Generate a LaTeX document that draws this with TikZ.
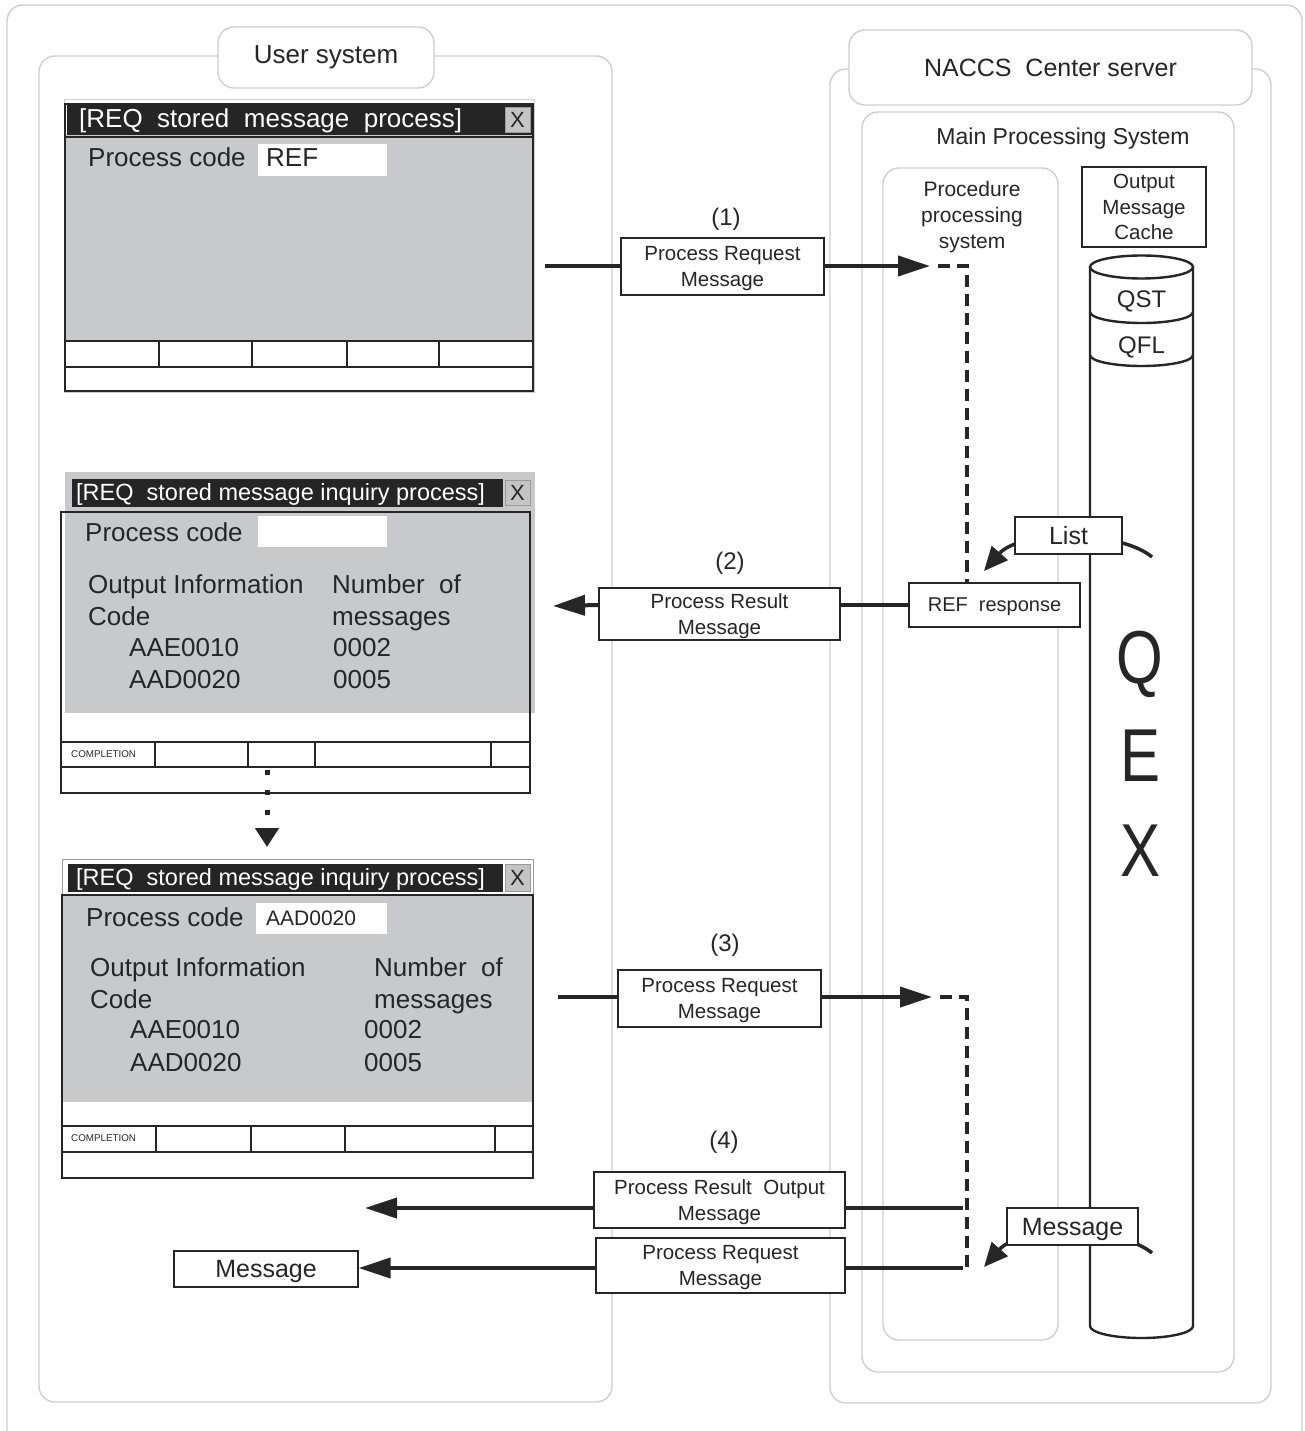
\documentclass[tikz,border=0pt]{standalone}
\usepackage{fontspec}
\setmainfont{Liberation Sans}
\usetikzlibrary{arrows.meta}
\definecolor{framegray}{HTML}{CFCFCF}
\definecolor{ink}{HTML}{262626}
\definecolor{screen}{HTML}{C8C9CB}
\definecolor{titlebar}{HTML}{252525}
\definecolor{btn}{HTML}{C4C4C4}
\definecolor{edge}{HTML}{9A9A9A}
\newcommand\fsz[2]{\fontsize{#1}{#2}\selectfont}

\begin{document}
\begin{tikzpicture}[x=1pt,y=-1pt,
  frame/.style={draw=framegray, line width=1.4pt, rounded corners=16pt},
  tagbox/.style={frame, fill=white, inner sep=0pt, text=ink},
  msgbox/.style={draw=ink, line width=1.3pt, fill=white, inner sep=0pt, align=center, text=ink,
                 text depth=0pt, font=\fsz{20.5}{26}},
  flow/.style={draw=ink, line width=4pt},
  flowto/.style={flow, -{Triangle[length=32pt,width=20pt]}},
  relay/.style={draw=ink, line width=4.5pt, dash pattern=on 12pt off 7pt},
  txt/.style={text=ink, inner sep=0pt, anchor=base west, font=\fsz{26}{30}},
  ttl/.style={text=white, inner sep=0pt, anchor=base west},
  tiny/.style={text=ink, inner sep=0pt, anchor=west, font=\fsz{9.8}{11}},
  win/.style={draw=ink, line width=2pt},
  cell/.style={draw=ink, line width=1.6pt},
  cyl/.style={draw=ink, line width=2.4pt},
  pick/.style={draw=ink, line width=3.5pt, -{Triangle[length=24pt,width=21pt]}},
  num/.style={text=ink, font=\fsz{24}{28}},
  xbtn/.style={fill=btn, draw=edge, line width=0.8pt, inner sep=0pt, text=ink, font=\fsz{22}{24}},
  bigq/.style={text=ink, font=\fsz{60}{60}},
]
\useasboundingbox (0,0) rectangle (1304,1431);
\fill[white] (0,0) rectangle (1304,1431);

% sheet border
\draw[frame] (7,1460) -- (7,5) -- (1302,5) -- (1302,1460);

% ---------- user side container ----------
\draw[frame] (39,56) rectangle (612,1402);
\node[tagbox, minimum width=216pt, minimum height=61pt, font=\fsz{26}{30}] (usertag) at (326,57.5) {User system};

% ---------- center side containers ----------
\draw[frame] (830,69) rectangle (1271,1403);
\node[tagbox, minimum width=403pt, minimum height=75pt, font=\fsz{25}{30}] (naccstag) at (1050.5,67.5) {NACCS~ Center server};
\draw[frame] (862,112) rectangle (1234,1372);
\node[text=ink, font=\fsz{23}{28}] (mainlbl) at (1063,139) {Main Processing System};
\draw[frame] (883,168) rectangle (1058,1340);
\node[text=ink, font=\fsz{21}{26}, align=center] (proclbl) at (972,217) {Procedure\\processing\\system};
\node[draw=ink, line width=1.3pt, minimum width=124pt, minimum height=80pt, inner sep=0pt, text depth=0pt,
      align=center, font=\fsz{20.5}{25.5}, text=ink] (cache) at (1144,207) {Output\\Message\\Cache};

% ---------- message store cylinder ----------
\draw[cyl] (1090,267) -- (1090,1326)
  arc[start angle=180, end angle=360, x radius=51.5pt, y radius=12pt] -- (1193,267);
\draw[cyl, fill=white] (1141.5,267) ellipse [x radius=51.5pt, y radius=11.5pt];
\draw[cyl] (1090,312) arc[start angle=180, end angle=360, x radius=51.5pt, y radius=11pt];
\draw[cyl] (1090,355) arc[start angle=180, end angle=360, x radius=51.5pt, y radius=11pt];
\node[text=ink, font=\fsz{24}{28}] (qst) at (1141.5,301) {QST};
\node[text=ink, font=\fsz{24}{28}] (qfl) at (1141.5,347) {QFL};
\node[bigq] (qq) at (1140,664) {\scalebox{1}[1.25]{Q}};
\node[bigq] (qe) at (1140,756) {\scalebox{1}[1.25]{E}};
\node[bigq] (qx) at (1140,851) {\scalebox{1}[1.25]{X}};

% ---------- window 1 ----------
\draw[draw=framegray, line width=1pt] (64,100) rectangle (534,392);
\fill[screen] (65,135) rectangle (533,341);
\fill[titlebar] (67,104) rectangle (533,135);
\node[xbtn, minimum width=25pt, minimum height=25pt] (x1) at (517.5,119.5) {X};
\node[ttl, font=\fsz{26}{30}] (t1) at (79,127.5) {[REQ\ \ stored\ \ message\ \ process]};
\draw[win] (65,104) rectangle (533,391);
\draw[win] (65,137) -- (533,137);
\fill[white] (258,144) rectangle (387,176);
\node[txt] (pc1) at (88,167) {Process code};
\node[txt] (v1) at (266,167) {REF};
\draw[cell] (65,341) -- (533,341) (65,367) -- (533,367);
\foreach \x in {159,252,347,439} \draw[cell] (\x,341) -- (\x,367);

% ---------- window 2 ----------
\fill[screen] (65,472) rectangle (535,713);
\fill[titlebar] (72,479) rectangle (503,507);
\node[xbtn, minimum width=25pt, minimum height=25pt] (x2) at (517.5,493) {X};
\node[ttl, font=\fsz{23.5}{28}] (t2) at (76,500) {[REQ\ \ stored\ message\ inquiry\ process]};
\draw[win] (61,512) rectangle (530,793);
\fill[white] (258,516) rectangle (387,547);
\node[txt] (pc2) at (85,541) {Process code};
\node[txt] (oi2) at (88,593) {Output Information};
\node[txt] (cd2) at (88,625) {Code};
\node[txt] (a2) at (129,656) {AAE0010};
\node[txt] (b2) at (129,688) {AAD0020};
\node[txt] (n2) at (332,593) {Number\ \ of};
\node[txt] (m2) at (332,625) {messages};
\node[txt] (c2) at (333,656) {0002};
\node[txt] (d2) at (333,688) {0005};
\draw[cell] (61,742) -- (530,742) (61,767) -- (530,767);
\foreach \x in {155,248,315,491} \draw[cell] (\x,742) -- (\x,767);
\node[tiny] (cp2) at (71,754) {COMPLETION};

% step down to the next screen
\coordinate (go2) at (267,769.5);
\coordinate (go3) at (267,847);
\draw[draw=ink, line width=5pt, dash pattern=on 5pt off 15pt,
      -{Triangle[length=19pt,width=23pt]}] (go2) -- (go3);

% ---------- window 3 ----------
\fill[screen] (62,895) rectangle (533,1102);
\draw[draw=edge, line width=1pt] (62,859) rectangle (533,895);
\fill[titlebar] (68,864) rectangle (503,892);
\node[xbtn, minimum width=25pt, minimum height=27pt] (x3) at (517.5,878) {X};
\node[ttl, font=\fsz{23.5}{28}] (t3) at (76,885) {[REQ\ \ stored\ message\ inquiry\ process]};
\draw[win] (62,895) rectangle (533,1178);
\fill[white] (256,903) rectangle (387,934);
\node[txt] (pc3) at (86,926) {Process code};
\node[txt, font=\fsz{21}{25}] (v3) at (266,925) {AAD0020};
\node[txt] (oi3) at (90,976) {Output Information};
\node[txt] (cd3) at (90,1008) {Code};
\node[txt] (a3) at (130,1038) {AAE0010};
\node[txt] (b3) at (130,1071) {AAD0020};
\node[txt] (n3) at (374,976) {Number\ \ of};
\node[txt] (m3) at (374,1008) {messages};
\node[txt] (c3) at (364,1038) {0002};
\node[txt] (d3) at (364,1071) {0005};
\draw[cell] (62,1126) -- (533,1126) (62,1152) -- (533,1152);
\foreach \x in {156,251,345,495} \draw[cell] (\x,1126) -- (\x,1152);
\node[tiny] (cp3) at (71,1138) {COMPLETION};

% ---------- (1) request ----------
\node[num] (n1) at (726,219) {(1)};
\node[msgbox, minimum width=203pt, minimum height=57pt] (req1) at (722.5,266.5) {Process Request\\Message};
\coordinate (s1) at (545,266);
\coordinate (e1) at (930,266);
\coordinate (k1) at (938,266);
\coordinate (k1b) at (967,266);
\draw[flow] (s1) -- (req1.west |- s1);
\draw[flowto] (req1.east |- s1) -- (e1);

% ---------- (2) result ----------
\node[num] (n2) at (730,563) {(2)};
\node[msgbox, minimum width=171pt, minimum height=44pt, font=\fsz{20}{24}] (refr) at (994.5,605) {REF\ \ response};
\draw[relay] (k1) -- (k1b) -- (k1b |- refr.north);
\node[msgbox, minimum width=241pt, minimum height=52pt] (res2) at (719.5,614) {Process Result\\Message};
\coordinate (e2) at (553,606);
\draw[flow] (refr.west) -- (res2.east |- refr.west);
\draw[flowto] (res2.west |- refr.west) -- (e2);

% list taken from the store
\draw[pick] (1152,557) .. controls (1120,530) and (1020,530) .. (984,571);
\node[msgbox, minimum width=107pt, minimum height=37pt, font=\fsz{25}{28}] (list) at (1068.5,535.5) {List};

% ---------- (3) request ----------
\node[num] (n3) at (725,945) {(3)};
\node[msgbox, minimum width=203pt, minimum height=57pt] (req3) at (719.5,998.5) {Process Request\\Message};
\coordinate (s3) at (558,997);
\coordinate (e3) at (932,997);
\coordinate (k3) at (940,997);
\coordinate (k3b) at (967,997);
\coordinate (k3c) at (967,1270);
\draw[flow] (s3) -- (req3.west |- s3);
\draw[flowto] (req3.east |- s3) -- (e3);
\draw[relay] (k3) -- (k3b) -- (k3c);

% ---------- (4) results ----------
\node[num] (n4) at (724,1142) {(4)};
\node[msgbox, minimum width=251pt, minimum height=56pt] (res4) at (719.5,1200) {Process Result\ \ Output\\Message};
\node[msgbox, minimum width=249pt, minimum height=55pt] (req4) at (720.5,1265.5) {Process Request\\Message};
\node[msgbox, minimum width=184pt, minimum height=36pt, font=\fsz{25}{28}] (msgl) at (266,1269) {Message};
\coordinate (r4a) at (963,1208);
\coordinate (r4b) at (963,1268);
\coordinate (e4a) at (365,1208);
\draw[flow] (r4a) -- (res4.east |- r4a);
\draw[flowto] (res4.west |- r4a) -- (e4a);
\draw[flow] (r4b) -- (req4.east |- r4b);
\draw[flowto] (req4.west |- r4b) -- (msgl.east |- r4b);

% message taken from the store
\draw[pick] (1152,1253) .. controls (1120,1226) and (1020,1226) .. (984,1267);
\node[msgbox, minimum width=131pt, minimum height=37pt, font=\fsz{25}{28}] (msgr) at (1072.5,1226.5) {Message};

\end{tikzpicture}
\end{document}
